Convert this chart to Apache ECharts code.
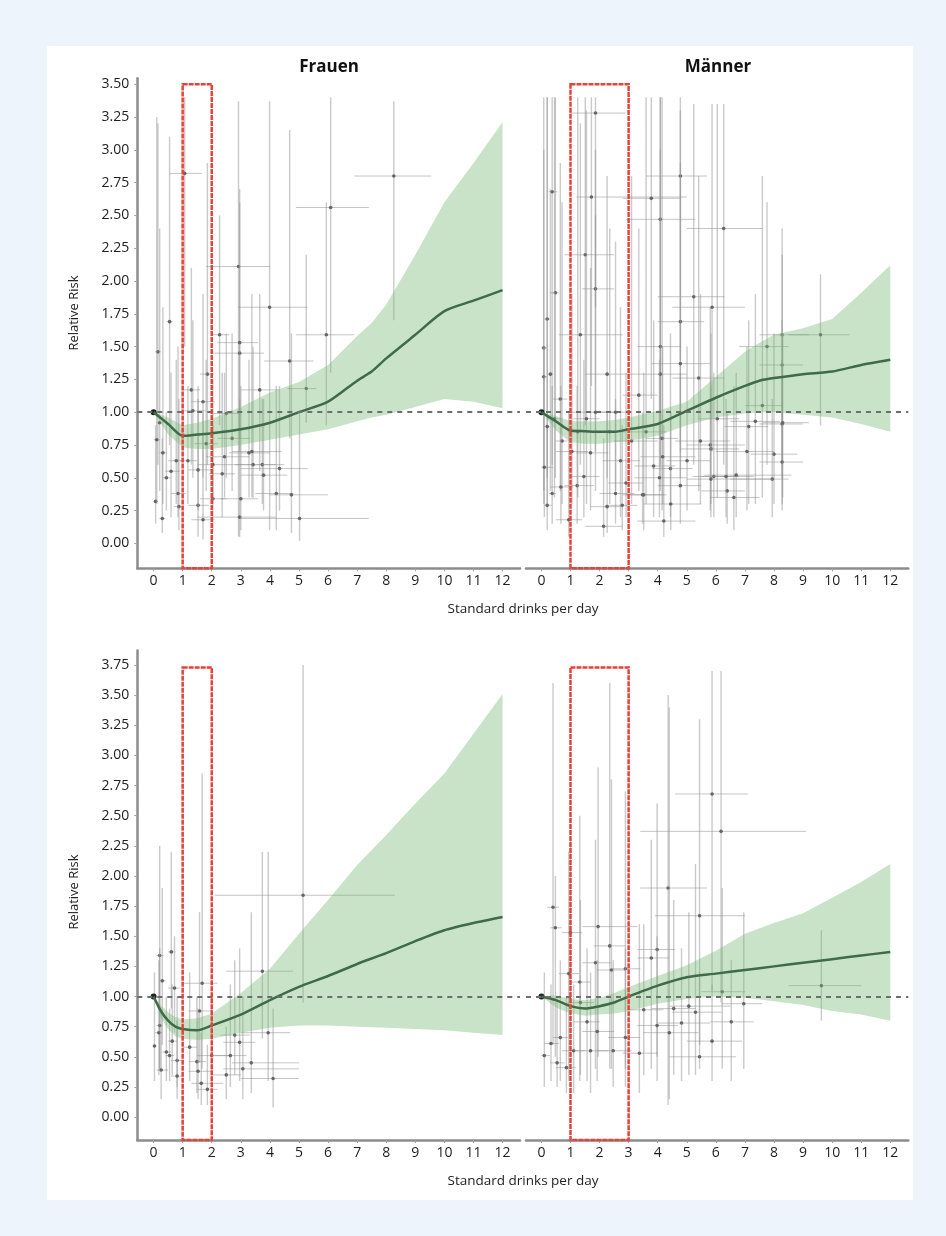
<!DOCTYPE html>
<html>
<head>
<meta charset="utf-8">
<script src="https://cdn.jsdelivr.net/npm/echarts@6/dist/echarts.min.js"></script>
<style>
  body { margin: 0; background: #eef4fc; }
  #panel { position: absolute; left: 47px; top: 46px; width: 866px; height: 1154px; background: #ffffff; }
  #main { position: absolute; left: 0; top: 0; width: 946px; height: 1236px; }
</style>
</head>
<body>
<div id="panel"></div>
<div id="main"></div>
<script>
// tick labels
var xTicks = [0, 1, 2, 3, 4, 5, 6, 7, 8, 9, 10, 11, 12];
var yTicksTop = [0, 0.25, 0.5, 0.75, 1, 1.25, 1.5, 1.75, 2, 2.25, 2.5, 2.75, 3, 3.25, 3.5];
var yTicksBottom = [0, 0.25, 0.5, 0.75, 1, 1.25, 1.5, 1.75, 2, 2.25, 2.5, 2.75, 3, 3.25, 3.5, 3.75];

// Frauen, oben
var fX = [0, 0.5, 1, 1.5, 2, 3, 4, 5, 6, 7, 7.5, 8, 9, 10, 11, 12];
var fLine = [1.00, 0.91, 0.82, 0.83, 0.84, 0.87, 0.92, 1.00, 1.08, 1.24, 1.31, 1.41, 1.59, 1.77, 1.85, 1.93];
var fLow = [1.00, 0.83, 0.73, 0.72, 0.72, 0.75, 0.79, 0.83, 0.87, 0.93, 0.96, 0.98, 1.04, 1.10, 1.08, 1.03];
var fUp = [1.00, 0.96, 0.90, 0.92, 0.95, 1.04, 1.15, 1.23, 1.36, 1.58, 1.68, 1.82, 2.20, 2.60, 2.90, 3.21];

// Männer, oben
var mX = [0, 0.5, 1, 1.5, 2, 2.5, 3, 4, 5, 6, 7, 7.5, 8, 9, 10, 11, 12];
var mLine = [1.00, 0.93, 0.86, 0.855, 0.85, 0.85, 0.87, 0.91, 1.01, 1.11, 1.20, 1.24, 1.26, 1.29, 1.31, 1.36, 1.40];
var mLow = [1.00, 0.86, 0.77, 0.76, 0.76, 0.77, 0.78, 0.82, 0.90, 0.96, 0.99, 1.00, 1.00, 0.98, 0.96, 0.91, 0.85];
var mUp = [1.00, 0.97, 0.93, 0.93, 0.93, 0.94, 0.96, 1.01, 1.08, 1.27, 1.46, 1.53, 1.59, 1.64, 1.71, 1.91, 2.12];

// Frauen, unten
var f2X = [0, 0.25, 0.5, 0.75, 1, 1.5, 2, 3, 4, 5, 6, 7, 8, 9, 10, 11, 12];
var f2Line = [1.00, 0.88, 0.80, 0.75, 0.73, 0.72, 0.76, 0.85, 0.97, 1.08, 1.17, 1.27, 1.36, 1.46, 1.55, 1.61, 1.66];
var f2Low = [1.00, 0.82, 0.73, 0.67, 0.65, 0.64, 0.65, 0.70, 0.74, 0.76, 0.76, 0.75, 0.74, 0.73, 0.72, 0.70, 0.68];
var f2Up = [1.00, 0.93, 0.87, 0.83, 0.81, 0.82, 0.86, 1.03, 1.23, 1.52, 1.80, 2.09, 2.34, 2.60, 2.85, 3.18, 3.51];

// Männer, unten
var m2X = [0, 0.5, 1, 1.5, 2, 2.5, 3, 4, 5, 6, 7, 8, 9, 10, 11, 12];
var m2Line = [1.00, 0.97, 0.92, 0.90, 0.92, 0.95, 1.00, 1.09, 1.16, 1.19, 1.22, 1.25, 1.28, 1.31, 1.34, 1.37];
var m2Low = [1.00, 0.91, 0.86, 0.84, 0.85, 0.86, 0.88, 0.94, 0.98, 1.00, 0.99, 0.96, 0.93, 0.88, 0.85, 0.80];
var m2Up = [1.00, 1.01, 0.98, 0.97, 0.99, 1.03, 1.08, 1.17, 1.26, 1.38, 1.52, 1.61, 1.69, 1.82, 1.95, 2.10];

// studies: [x, rr, xLow, xHigh, rrLow, rrHigh]
var fPts = [
  [8.26, 2.80, 6.9, 9.55, 1.70, 3.37], [6.09, 2.56, 4.9, 7.4, 1.30, 3.40],
  [5.94, 1.59, 4.9, 6.9, 0.90, 2.60], [4.68, 1.39, 3.8, 5.5, 0.80, 3.15],
  [3.99, 1.80, 2.9, 5.3, 0.10, 3.37], [2.92, 2.11, 1.8, 4.0, 0.05, 3.37],
  [2.27, 1.59, 2.0, 2.6, 0.90, 2.50], [1.85, 1.29, 1.6, 2.1, 0.60, 2.90],
  [1.07, 2.82, 0.55, 1.65, 1.50, 3.40], [0.55, 1.69, 0.45, 0.65, 0.75, 3.10],
  [0.15, 1.46, 0.05, 0.25, 0.60, 3.20], [2.96, 1.45, 2.0, 3.8, 0.70, 2.70],
  [2.96, 1.53, 2.2, 3.6, 0.80, 2.60], [3.65, 1.17, 3.0, 4.3, 0.55, 1.90],
  [5.25, 1.18, 4.6, 5.6, 0.92, 2.20], [3.28, 0.69, 2.6, 4.0, 0.35, 1.40],
  [4.22, 0.38, 3.5, 4.8, 0.10, 1.20], [4.74, 0.37, 4.0, 6.0, 0.08, 1.60],
  [5.02, 0.19, 3.0, 7.4, 0.02, 1.00], [2.96, 0.20, 1.5, 4.2, 0.05, 1.10],
  [3.00, 0.34, 2.3, 3.6, 0.10, 1.20], [2.36, 0.53, 1.9, 2.8, 0.20, 1.30],
  [2.04, 0.34, 1.6, 2.5, 0.10, 0.90], [1.70, 0.18, 1.3, 2.1, 0.03, 1.00],
  [1.53, 0.29, 1.2, 1.9, 0.05, 1.20], [0.87, 0.28, 0.7, 1.0, 0.10, 1.10],
  [0.30, 0.19, 0.2, 0.4, 0.08, 0.80], [0.07, 0.32, 0.0, 0.15, 0.15, 0.90],
  [0.84, 0.38, 0.6, 1.1, 0.20, 1.50], [0.44, 0.50, 0.3, 0.6, 0.25, 1.00],
  [0.78, 0.63, 0.5, 1.0, 0.30, 1.40], [1.18, 0.63, 0.9, 1.5, 0.30, 1.20],
  [1.53, 0.56, 1.2, 2.0, 0.25, 1.10], [2.04, 0.60, 1.5, 3.0, 0.30, 1.25],
  [2.44, 0.66, 1.8, 3.3, 0.35, 1.30], [1.81, 0.76, 1.4, 2.2, 0.40, 1.40],
  [1.30, 1.17, 1.0, 1.6, 0.60, 2.10], [1.35, 1.01, 1.0, 1.8, 0.50, 1.70],
  [1.70, 1.08, 1.3, 2.1, 0.50, 1.90], [2.50, 0.99, 2.0, 3.0, 0.50, 1.60],
  [4.33, 0.57, 3.0, 5.3, 0.25, 1.20], [3.74, 0.60, 3.0, 4.5, 0.30, 1.10],
  [3.42, 0.60, 2.8, 4.2, 0.35, 1.50], [0.32, 0.69, 0.2, 0.45, 0.30, 1.80],
  [0.11, 0.79, 0.0, 0.2, 0.30, 3.25], [0.21, 0.92, 0.1, 0.3, 0.40, 2.40],
  [3.78, 0.52, 3.0, 4.6, 0.25, 1.10], [0.60, 0.55, 0.4, 0.9, 0.20, 1.30],
  [2.70, 0.80, 2.2, 3.3, 0.40, 1.60], [3.38, 0.70, 2.7, 4.4, 0.35, 1.90],
  [0.00, 1.00, 0, 0, 1, 1]
];
var mPts = [
  [1.86, 3.28, 1.0, 2.9, 1.80, 3.40], [0.37, 2.68, 0.25, 0.55, 0.60, 3.40],
  [1.72, 2.64, 1.2, 5.0, 1.20, 3.40], [3.78, 2.63, 2.8, 4.8, 1.10, 3.40],
  [4.78, 2.80, 3.6, 5.7, 1.40, 3.40], [4.09, 2.47, 2.9, 5.3, 0.80, 3.40],
  [6.27, 2.40, 5.0, 7.6, 0.60, 3.35], [1.51, 2.20, 0.8, 2.5, 0.90, 3.40],
  [1.86, 1.94, 1.4, 2.5, 0.70, 3.00], [0.48, 1.91, 0.3, 0.6, 0.50, 3.40],
  [5.24, 1.88, 4.0, 6.3, 0.60, 3.35], [5.87, 1.80, 4.5, 7.0, 0.70, 3.35],
  [4.78, 1.69, 4.0, 5.6, 0.70, 3.30], [0.20, 1.71, 0.1, 0.3, 0.50, 3.40],
  [0.08, 1.49, 0.0, 0.2, 0.40, 3.40], [1.34, 1.59, 0.6, 2.8, 0.60, 3.20],
  [4.09, 1.50, 3.3, 4.8, 0.60, 3.40], [8.28, 1.59, 7.5, 9.2, 0.50, 2.40],
  [9.60, 1.59, 8.5, 10.6, 0.90, 2.05], [7.76, 1.50, 6.8, 8.5, 0.60, 2.60],
  [8.28, 1.36, 7.5, 9.0, 0.60, 2.20], [4.78, 1.37, 3.8, 5.8, 0.50, 2.90],
  [4.09, 1.29, 3.0, 5.0, 0.40, 3.00], [2.26, 1.29, 1.5, 3.0, 0.50, 2.80],
  [0.31, 1.29, 0.2, 0.4, 0.40, 2.70], [5.41, 1.26, 4.5, 6.3, 0.40, 2.80],
  [3.35, 1.13, 2.8, 4.0, 0.40, 2.40], [7.36, 0.93, 6.5, 8.2, 0.30, 1.90],
  [7.13, 0.89, 6.3, 7.8, 0.30, 1.70], [8.28, 0.91, 7.5, 9.0, 0.30, 1.70],
  [7.07, 0.70, 6.0, 8.0, 0.25, 1.50], [8.00, 0.68, 7.2, 8.8, 0.30, 1.60],
  [8.28, 0.62, 7.5, 9.0, 0.25, 1.40], [7.94, 0.49, 6.5, 8.5, 0.20, 1.10],
  [6.62, 0.35, 5.8, 7.5, 0.10, 1.20], [6.39, 0.40, 5.5, 7.0, 0.15, 1.00],
  [4.21, 0.17, 3.3, 5.3, 0.05, 0.90], [2.14, 0.13, 1.5, 2.8, 0.05, 0.80],
  [0.94, 0.18, 0.5, 1.4, 0.05, 1.00], [1.23, 0.44, 0.8, 1.8, 0.15, 1.20],
  [1.46, 0.51, 1.0, 2.0, 0.20, 1.40], [2.55, 0.38, 2.0, 3.2, 0.15, 1.10],
  [2.78, 0.29, 2.2, 3.3, 0.10, 0.90], [2.26, 0.28, 1.7, 2.8, 0.08, 1.00],
  [0.20, 0.29, 0.1, 0.35, 0.10, 0.90], [0.37, 0.38, 0.25, 0.5, 0.15, 1.20],
  [3.52, 0.37, 2.9, 4.2, 0.10, 1.30], [4.78, 0.44, 4.0, 5.5, 0.15, 1.30],
  [5.47, 0.78, 4.6, 6.5, 0.30, 1.90], [5.81, 0.75, 5.0, 7.0, 0.25, 1.80],
  [0.20, 0.89, 0.1, 0.3, 0.30, 3.40], [0.71, 0.78, 0.5, 0.9, 0.30, 2.60],
  [1.69, 0.69, 1.2, 2.3, 0.25, 2.10], [2.72, 0.63, 2.1, 3.4, 0.20, 1.80],
  [3.86, 0.59, 3.2, 4.6, 0.20, 1.70], [4.44, 0.57, 3.8, 5.2, 0.20, 1.60],
  [5.01, 0.63, 4.3, 5.8, 0.25, 1.50], [5.93, 0.51, 5.2, 6.8, 0.20, 1.30],
  [1.86, 1.00, 1.0, 2.5, 0.40, 2.50], [2.55, 1.00, 1.9, 3.1, 0.40, 2.30],
  [0.65, 1.10, 0.4, 0.9, 0.40, 2.90], [0.08, 1.27, 0.0, 0.2, 0.30, 3.00],
  [3.60, 0.85, 3.0, 4.3, 0.30, 3.40], [4.15, 0.80, 3.6, 4.7, 0.25, 3.40],
  [6.05, 0.95, 5.4, 6.8, 0.35, 3.35], [7.60, 1.05, 7.0, 8.3, 0.35, 2.80],
  [1.55, 0.95, 1.1, 2.0, 0.30, 3.30], [2.35, 0.85, 1.9, 2.9, 0.30, 2.40],
  [0.67, 0.43, 0.3, 1.1, 0.15, 1.20], [0.10, 0.58, 0.0, 0.4, 0.20, 1.50],
  [6.70, 0.52, 5.6, 8.6, 0.20, 1.30], [6.35, 0.51, 5.5, 7.3, 0.20, 1.10],
  [4.06, 0.50, 3.2, 5.0, 0.20, 1.40], [5.83, 0.72, 4.8, 6.8, 0.30, 1.60],
  [4.17, 0.66, 3.4, 5.3, 0.30, 1.50], [2.91, 0.46, 2.3, 3.5, 0.20, 1.30],
  [5.83, 0.49, 5.0, 8.0, 0.20, 1.20], [4.45, 0.30, 3.5, 5.5, 0.10, 1.00],
  [8.30, 0.92, 7.6, 9.2, 0.35, 1.60], [3.48, 0.37, 2.8, 4.3, 0.15, 1.00],
  [1.05, 0.70, 0.5, 1.6, 0.30, 1.90], [3.10, 0.78, 2.5, 4.0, 0.30, 2.80],
  [0.45, 0.95, 0.2, 0.7, 0.35, 3.40], [1.25, 0.85, 0.9, 1.7, 0.35, 3.40],
  [0.00, 1.00, 0, 0, 1, 1]
];
var f2Pts = [
  [5.14, 1.84, 2.1, 8.3, 0.95, 3.75], [3.74, 1.21, 2.5, 4.8, 0.65, 2.20],
  [1.67, 1.11, 1.0, 2.2, 0.40, 2.85], [0.61, 1.37, 0.5, 0.75, 0.90, 2.20],
  [0.21, 1.34, 0.1, 0.35, 0.40, 2.25], [0.30, 1.13, 0.2, 0.4, 0.60, 1.90],
  [0.72, 1.07, 0.5, 0.9, 0.70, 1.50], [1.58, 0.88, 1.2, 2.0, 0.45, 1.70],
  [0.21, 0.76, 0.1, 0.3, 0.40, 1.40], [0.18, 0.70, 0.05, 0.3, 0.35, 1.30],
  [0.03, 0.59, 0.0, 0.1, 0.30, 1.20], [0.44, 0.54, 0.3, 0.6, 0.30, 1.00],
  [0.55, 0.51, 0.4, 0.7, 0.30, 0.90], [0.81, 0.47, 0.6, 1.0, 0.25, 1.00],
  [0.64, 0.63, 0.5, 0.8, 0.35, 1.10], [0.81, 0.34, 0.6, 1.0, 0.15, 0.80],
  [0.26, 0.39, 0.1, 0.5, 0.15, 0.90], [1.24, 0.58, 1.0, 1.5, 0.30, 1.20],
  [1.49, 0.46, 1.2, 1.8, 0.20, 1.00], [1.53, 0.38, 1.2, 2.0, 0.15, 0.90],
  [1.85, 0.23, 1.5, 2.2, 0.10, 0.60], [1.64, 0.28, 1.3, 2.4, 0.10, 0.70],
  [2.00, 0.51, 1.5, 2.6, 0.25, 1.00], [2.50, 0.35, 2.0, 3.0, 0.15, 0.75],
  [2.64, 0.51, 2.1, 3.2, 0.25, 1.10], [2.96, 0.62, 2.4, 3.5, 0.30, 1.40],
  [2.79, 0.68, 2.3, 3.3, 0.35, 1.30], [3.07, 0.40, 2.4, 5.0, 0.15, 1.00],
  [3.36, 0.45, 2.7, 5.0, 0.20, 1.70], [3.94, 0.70, 3.0, 4.7, 0.30, 2.20],
  [4.11, 0.32, 3.0, 5.0, 0.08, 0.90], [0.00, 1.00, 0, 0, 1, 1]
];
var m2Pts = [
  [5.87, 2.68, 4.6, 7.1, 1.05, 3.70], [6.18, 2.37, 3.4, 9.1, 0.95, 3.70],
  [4.36, 1.90, 3.4, 5.7, 0.10, 3.50], [5.44, 1.67, 3.9, 7.0, 0.60, 3.30],
  [3.98, 1.39, 3.3, 4.6, 0.50, 2.60], [3.78, 1.32, 3.3, 4.4, 0.40, 2.30],
  [1.95, 1.58, 1.4, 3.3, 0.50, 2.90], [2.35, 1.42, 1.8, 2.9, 0.40, 3.60],
  [1.86, 1.28, 1.4, 2.4, 0.40, 2.30], [2.41, 1.22, 1.9, 2.9, 0.40, 2.80],
  [2.89, 1.23, 2.4, 3.4, 0.40, 2.70], [1.32, 1.12, 1.0, 1.7, 0.30, 2.50],
  [0.94, 1.19, 0.6, 1.3, 0.30, 2.20], [0.40, 1.74, 0.2, 0.6, 0.60, 3.60],
  [0.48, 1.57, 0.3, 0.7, 0.50, 2.00], [1.00, 1.53, 0.7, 1.4, 0.50, 2.30],
  [9.63, 1.09, 8.5, 11.0, 0.80, 1.55], [6.22, 1.04, 5.5, 7.0, 0.40, 1.90],
  [6.96, 0.94, 6.2, 7.6, 0.40, 1.70], [4.55, 0.90, 3.8, 5.3, 0.35, 1.80],
  [5.07, 0.92, 4.4, 6.5, 0.35, 1.70], [5.30, 0.87, 4.5, 6.2, 0.35, 2.10],
  [3.52, 0.89, 3.0, 4.2, 0.35, 1.60], [3.98, 0.76, 3.3, 4.7, 0.30, 1.50],
  [4.40, 0.70, 3.5, 5.4, 0.15, 3.40], [4.82, 0.78, 4.0, 5.8, 0.30, 1.40],
  [6.53, 0.79, 5.8, 7.3, 0.30, 1.30], [5.87, 0.63, 5.0, 6.9, 0.30, 1.10],
  [5.44, 0.50, 4.4, 6.7, 0.40, 1.20], [3.37, 0.53, 2.8, 4.0, 0.20, 1.60],
  [2.89, 0.66, 2.3, 3.4, 0.25, 1.40], [2.47, 0.55, 1.9, 3.1, 0.25, 1.30],
  [1.69, 0.55, 1.2, 2.3, 0.20, 1.20], [1.11, 0.55, 0.7, 1.5, 0.20, 1.10],
  [0.86, 0.41, 0.5, 1.2, 0.20, 1.00], [0.54, 0.45, 0.3, 0.8, 0.25, 1.00],
  [0.33, 0.61, 0.1, 0.6, 0.30, 1.10], [0.10, 0.51, 0.0, 0.3, 0.25, 1.20],
  [0.65, 0.66, 0.4, 0.9, 0.30, 1.30], [1.92, 0.71, 1.4, 2.5, 0.30, 1.30],
  [1.57, 0.79, 1.1, 2.0, 0.30, 1.40], [1.34, 0.95, 0.9, 1.8, 0.35, 1.80],
  [0.00, 1.00, 0, 0, 1, 1]
];

// red boxes: [from, to, top]
var boxTopLeft = [1, 2, 3.5];
var boxTopRight = [1, 3, 3.5];
var boxBottomLeft = [1, 2, 3.73];
var boxBottomRight = [1, 3, 3.73];

var FONT = "Open Sans";
var yMinAll = -0.19;

var dom = document.getElementById("main");
var myChart = echarts.init(dom, null, { renderer: "canvas" });

function errorBars(pts, idx) {
  return {
    type: "custom",
    xAxisIndex: idx,
    yAxisIndex: idx,
    silent: true,
    z: 1,
    data: pts,
    renderItem: function (params, api) {
      var c = api.coord([api.value(0), api.value(1)]);
      var l = api.coord([api.value(2), api.value(1)]);
      var r = api.coord([api.value(3), api.value(1)]);
      var b = api.coord([api.value(0), api.value(4)]);
      var t = api.coord([api.value(0), api.value(5)]);
      var isRef = api.value(2) === api.value(3);
      return {
        type: "group",
        children: [
          { type: "line", shape: { x1: l[0], y1: l[1], x2: r[0], y2: r[1] },
            style: { stroke: "rgba(140,140,140,0.5)", lineWidth: 1 } },
          { type: "line", shape: { x1: b[0], y1: b[1], x2: t[0], y2: t[1] },
            style: { stroke: "rgba(150,150,150,0.5)", lineWidth: 1.4 } },
          { type: "circle", shape: { cx: c[0], cy: c[1], r: isRef ? 3 : 1.8 },
            style: { fill: isRef ? "#222" : "#666" } }
        ]
      };
    }
  };
}

function band(xs, lo, up, idx) {
  return {
    type: "custom",
    xAxisIndex: idx,
    yAxisIndex: idx,
    silent: true,
    z: 2,
    data: xs.map(function (x, i) { return [x, lo[i], up[i]]; }),
    renderItem: function (params, api) {
      if (params.dataIndex !== 0) return null;
      var pts = [];
      for (var i = 0; i < xs.length; i++) pts.push(api.coord([xs[i], up[i]]));
      for (var j = xs.length - 1; j >= 0; j--) pts.push(api.coord([xs[j], lo[j]]));
      return {
        type: "polygon",
        shape: { points: pts },
        style: { fill: "rgba(120,185,120,0.40)" }
      };
    }
  };
}

function curve(xs, ys, idx) {
  return {
    type: "line",
    xAxisIndex: idx,
    yAxisIndex: idx,
    data: xs.map(function (x, i) { return [x, ys[i]]; }),
    smooth: 0.25,
    symbol: "none",
    z: 4,
    lineStyle: { color: "#3f6b48", width: 2.5 },
    markLine: {
      silent: true,
      symbol: ["none", "none"],
      label: { show: false },
      lineStyle: { type: [5, 5], color: "#6e6e6e", width: 2 },
      data: [{ yAxis: 1 }]
    }
  };
}

function box(b, idx) {
  return {
    type: "custom",
    xAxisIndex: idx,
    yAxisIndex: idx,
    silent: true,
    z: 5,
    data: [b],
    renderItem: function (params, api) {
      var p0 = api.coord([api.value(0), api.value(2)]);
      var p1 = api.coord([api.value(1), yMinAll]);
      return {
        type: "rect",
        shape: { x: p0[0], y: p0[1], width: p1[0] - p0[0], height: p1[1] - p0[1] },
        style: { fill: "none", stroke: "#e4433b", lineWidth: 2.5, lineDash: [5, 1] }
      };
    }
  };
}

function xAxisFor(idx, min, max) {
  return {
    type: "value",
    gridIndex: idx,
    min: min,
    max: max,
    splitLine: { show: false },
    axisLine: { show: true, onZero: false, lineStyle: { color: "#8c8c8c", width: 2.5 } },
    axisTick: { show: true, length: 3, customValues: xTicks, lineStyle: { color: "#a0a0a0" } },
    axisLabel: { customValues: xTicks, fontSize: 14, fontFamily: FONT, color: "#1e1e1e", margin: 6 }
  };
}

function yAxisFor(idx, max, ticks, visible) {
  return {
    type: "value",
    gridIndex: idx,
    min: yMinAll,
    max: max,
    show: visible,
    splitLine: { show: false },
    axisLine: { show: true, onZero: false, lineStyle: { color: "#8c8c8c", width: 2.5 } },
    axisTick: { show: true, length: 3, customValues: ticks, lineStyle: { color: "#a0a0a0" } },
    axisLabel: {
      customValues: ticks, fontSize: 14, fontFamily: FONT, color: "#1e1e1e", margin: 8,
      formatter: function (v) { return v.toFixed(2); }
    }
  };
}

var option = {
  animation: false,
  grid: [
    { left: 137.3, top: 78.3, width: 382.7, height: 490 },
    { left: 526, top: 78.3, width: 382.3, height: 490 },
    { left: 137.3, top: 650.5, width: 382.7, height: 489.5 },
    { left: 526, top: 650.5, width: 382.3, height: 489.5 }
  ],
  xAxis: [
    xAxisFor(0, -0.56, 12.6),
    xAxisFor(1, -0.53, 12.62),
    xAxisFor(2, -0.56, 12.6),
    xAxisFor(3, -0.53, 12.62)
  ],
  yAxis: [
    yAxisFor(0, 3.545, yTicksTop, true),
    yAxisFor(1, 3.545, yTicksTop, false),
    yAxisFor(2, 3.87, yTicksBottom, true),
    yAxisFor(3, 3.87, yTicksBottom, false)
  ],
  graphic: [
    { type: "text", x: 329, y: 67, style: { text: "Frauen", font: "bold 17px " + FONT, fill: "#111", align: "center", verticalAlign: "middle" } },
    { type: "text", x: 718, y: 67, style: { text: "Männer", font: "bold 17px " + FONT, fill: "#111", align: "center", verticalAlign: "middle" } },
    { type: "text", x: 74, y: 313, rotation: Math.PI / 2, style: { text: "Relative Risk", font: "13px " + FONT, fill: "#222", align: "center", verticalAlign: "middle" } },
    { type: "text", x: 74, y: 892, rotation: Math.PI / 2, style: { text: "Relative Risk", font: "13px " + FONT, fill: "#222", align: "center", verticalAlign: "middle" } },
    { type: "text", x: 523, y: 609, style: { text: "Standard drinks per day", font: "13.5px " + FONT, fill: "#222", align: "center", verticalAlign: "middle" } },
    { type: "text", x: 523, y: 1181, style: { text: "Standard drinks per day", font: "13.5px " + FONT, fill: "#222", align: "center", verticalAlign: "middle" } }
  ],
  series: [
    errorBars(fPts, 0), band(fX, fLow, fUp, 0), curve(fX, fLine, 0), box(boxTopLeft, 0),
    errorBars(mPts, 1), band(mX, mLow, mUp, 1), curve(mX, mLine, 1), box(boxTopRight, 1),
    errorBars(f2Pts, 2), band(f2X, f2Low, f2Up, 2), curve(f2X, f2Line, 2), box(boxBottomLeft, 2),
    errorBars(m2Pts, 3), band(m2X, m2Low, m2Up, 3), curve(m2X, m2Line, 3), box(boxBottomRight, 3)
  ]
};

if (option && typeof option === "object") {
  myChart.setOption(option);
}
</script>
</body>
</html>
